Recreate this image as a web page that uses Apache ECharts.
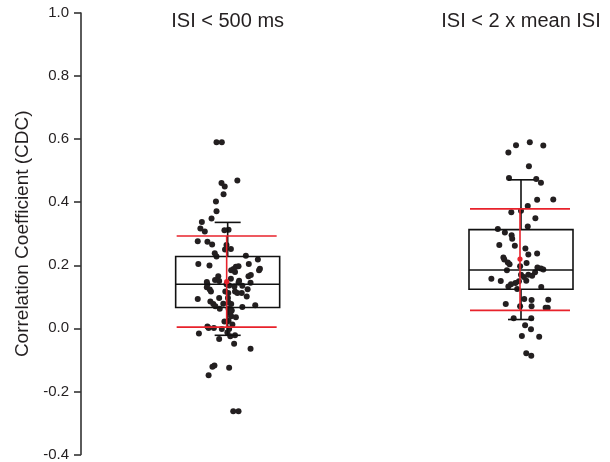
<!DOCTYPE html>
<html style="height: 100%; margin: 0">
<head>
<meta charset="UTF-8">
<title>CDC</title>
</head>
<body style="height: 100%; margin: 0">
<div id="container" style="width:610px;height:462px"></div>
<script type="text/javascript" src="https://cdn.jsdelivr.net/npm/echarts@6/dist/echarts.min.js"></script>
<script type="text/javascript">
	var groups = ['ISI < 500 ms', 'ISI < 2 x mean ISI'];
	var yTicks = [-0.4, -0.2, 0.0, 0.2, 0.4, 0.6, 0.8, 1.0];

	// box stats: [low whisker, Q1, median, Q3, high whisker]
	var boxStats = [
		[-0.022, 0.066, 0.140, 0.228, 0.336],
		[0.028, 0.124, 0.185, 0.313, 0.471]
	];
	// mean and SD band: [mean - SD, mean, mean + SD]
	var meanSd = [
		[0.004, 0.148, 0.293],
		[0.057, 0.220, 0.379]
	];

	// group 1 points: horizontal jitter (axis units) and values
	var jitter1 = [-0.038, -0.020, 0.033, -0.021, -0.010, -0.014, -0.040, -0.038, -0.055, -0.088,
		-0.093, -0.078, -0.011, 0.003, -0.102, -0.069, -0.053, -0.004, -0.009, 0.011,
		-0.044, -0.038, 0.062, 0.103, -0.100, -0.062, 0.072, 0.028, 0.037, 0.020,
		0.110, 0.107, 0.012, 0.025, -0.032, 0.071, 0.079, 0.011, -0.043, -0.029,
		0.039, 0.037, -0.071, -0.069, 0.078, -0.004, 0.005, 0.023, 0.050, -0.071,
		-0.061, -0.057, 0.068, -0.008, 0.002, 0.025, 0.033, 0.048, 0.065, -0.102,
		-0.029, 0.001, -0.059, -0.049, -0.015, 0.003, 0.012, -0.027, 0.003, 0.014,
		0.050, 0.094, -0.042, 0.009, 0.012, 0.028, -0.011, 0.003, 0.016, -0.069,
		-0.065, -0.047, -0.020, 0.005, -0.098, -0.001, 0.009, 0.025, -0.029, 0.022,
		0.078, -0.045, -0.052, 0.005, -0.065, 0.019, 0.037];
	var values1 = [0.590, 0.590, 0.469, 0.461, 0.450, 0.425, 0.402, 0.371, 0.348, 0.337,
		0.317, 0.307, 0.311, 0.313, 0.276, 0.275, 0.266, 0.264, 0.250, 0.252,
		0.238, 0.228, 0.230, 0.218, 0.204, 0.199, 0.204, 0.195, 0.197, 0.188,
		0.189, 0.184, 0.184, 0.179, 0.165, 0.165, 0.169, 0.157, 0.153, 0.150,
		0.151, 0.145, 0.147, 0.140, 0.145, 0.140, 0.136, 0.133, 0.135, 0.130,
		0.123, 0.117, 0.124, 0.117, 0.112, 0.117, 0.112, 0.112, 0.101, 0.093,
		0.096, 0.096, 0.085, 0.077, 0.078, 0.082, 0.077, 0.062, 0.062, 0.057,
		0.068, 0.073, 0.070, 0.049, 0.038, 0.035, 0.022, 0.023, 0.012, 0.006,
		0.001, 0.001, -0.002, -0.002, -0.016, -0.013, -0.025, -0.022, -0.034, -0.049,
		-0.065, -0.118, -0.122, -0.125, -0.149, -0.263, -0.263];

	// group 2 points
	var jitter2 = [-0.043, -0.017, 0.030, 0.076, 0.027, -0.041, 0.052, 0.068, 0.055, 0.110,
		0.023, 0.000, -0.033, 0.049, 0.023, -0.079, -0.055, -0.032, -0.030, -0.021,
		-0.074, 0.015, 0.025, 0.055, -0.060, -0.057, -0.045, -0.039, 0.019, -0.003,
		0.056, 0.068, 0.076, -0.048, 0.048, 0.000, 0.010, 0.025, 0.038, -0.101,
		-0.069, -0.007, -0.019, -0.034, -0.043, 0.018, -0.013, 0.069, 0.011, 0.036,
		0.093, -0.052, -0.003, 0.036, 0.084, 0.091, -0.025, 0.035, 0.014, 0.034,
		0.003, 0.062, 0.018, 0.035];
	var values2 = [0.558, 0.581, 0.590, 0.580, 0.514, 0.477, 0.474, 0.462, 0.408, 0.409,
		0.388, 0.373, 0.368, 0.349, 0.323, 0.315, 0.304, 0.295, 0.284, 0.262,
		0.264, 0.253, 0.234, 0.237, 0.225, 0.218, 0.209, 0.203, 0.207, 0.197,
		0.193, 0.190, 0.187, 0.184, 0.178, 0.170, 0.163, 0.170, 0.167, 0.157,
		0.150, 0.149, 0.144, 0.140, 0.133, 0.151, 0.125, 0.131, 0.093, 0.090,
		0.091, 0.077, 0.070, 0.070, 0.065, 0.065, 0.032, 0.032, 0.010, -0.003,
		-0.024, -0.027, -0.079, -0.087];

	var font = "'Liberation Sans', Arial, Helvetica, sans-serif";
	var ink = '#231f20';

	function points(center, jit, vals) {
		var out = [];
		for (var i = 0; i < vals.length; i++) {
			out.push([center + jit[i], vals[i]]);
		}
		return out;
	}

	var boxData = boxStats.map(function (s, i) { return [i + 1].concat(s); });
	var sdData = meanSd.map(function (s, i) { return [i + 1].concat(s); });

	function renderBox(params, api) {
		var x = api.value(0);
		var lo = api.coord([x, api.value(1)]);
		var q1 = api.coord([x, api.value(2)]);
		var md = api.coord([x, api.value(3)]);
		var q3 = api.coord([x, api.value(4)]);
		var hi = api.coord([x, api.value(5)]);
		var cx = q1[0], half = 52, cap = 13;
		var st = { stroke: '#111', lineWidth: 1.6, fill: null };
		return {
			type: 'group',
			children: [
				{ type: 'rect', shape: { x: cx - half, y: q3[1], width: half * 2, height: q1[1] - q3[1] }, style: st },
				{ type: 'line', shape: { x1: cx - half, y1: md[1], x2: cx + half, y2: md[1] }, style: st },
				{ type: 'line', shape: { x1: cx, y1: q3[1], x2: cx, y2: hi[1] }, style: st },
				{ type: 'line', shape: { x1: cx, y1: q1[1], x2: cx, y2: lo[1] }, style: st },
				{ type: 'line', shape: { x1: cx - cap, y1: hi[1], x2: cx + cap, y2: hi[1] }, style: st },
				{ type: 'line', shape: { x1: cx - cap, y1: lo[1], x2: cx + cap, y2: lo[1] }, style: st }
			]
		};
	}

	function renderSd(params, api) {
		var x = api.value(0);
		var lo = api.coord([x, api.value(1)]);
		var mn = api.coord([x, api.value(2)]);
		var hi = api.coord([x, api.value(3)]);
		var cx = lo[0] - 1, half = 50;
		var st = { stroke: '#e8222b', lineWidth: 1.6, fill: null };
		return {
			type: 'group',
			children: [
				{ type: 'line', shape: { x1: cx - half, y1: hi[1], x2: cx + half, y2: hi[1] }, style: st },
				{ type: 'line', shape: { x1: cx - half, y1: lo[1], x2: cx + half, y2: lo[1] }, style: st },
				{ type: 'line', shape: { x1: cx, y1: hi[1], x2: cx, y2: lo[1] }, style: st },
				{ type: 'circle', shape: { cx: cx, cy: mn[1], r: 2.6 }, style: { fill: '#e8222b' } }
			]
		};
	}

	var dom = document.getElementById("container");
	var myChart = echarts.init(dom);
	var option = {
		animation: false,
		backgroundColor: '#fff',
		grid: { left: 81, right: 1, top: 13, bottom: 7 },
		xAxis: [{
			type: 'value',
			min: 0.5,
			max: 2.3,
			show: false
		}, {
			type: 'value',
			position: 'top',
			min: 0.5,
			max: 2.3,
			offset: 4,
			axisLine: { show: false },
			axisTick: { show: false },
			splitLine: { show: false },
			axisLabel: {
				inside: true,
				margin: 2,
				customValues: [1, 2],
				formatter: function (v) { return groups[Math.round(v) - 1]; },
				color: ink,
				fontFamily: font,
				fontSize: 20
			}
		}],
		yAxis: {
			type: 'value',
			min: yTicks[0],
			max: yTicks[yTicks.length - 1],
			interval: 0.2,
			name: 'Correlation Coefficient (CDC)',
			nameLocation: 'middle',
			nameGap: 48,
			nameTextStyle: { color: ink, fontFamily: font, fontSize: 19 },
			axisLine: { show: true, lineStyle: { color: '#333', width: 1.6 } },
			axisTick: { show: true, inside: false, length: 7, lineStyle: { color: '#333', width: 1.6 } },
			splitLine: { show: false },
			axisLabel: {
				margin: 12,
				color: ink,
				fontFamily: font,
				fontSize: 15,
				formatter: function (v) { return (Math.round(v * 10) / 10).toFixed(1); }
			}
		},
		series: [
			{
				type: 'scatter',
				data: points(1, jitter1, values1),
				symbolSize: 6,
				itemStyle: { color: ink, opacity: 1 },
				z: 2
			},
			{
				type: 'scatter',
				data: points(2, jitter2, values2),
				symbolSize: 6,
				itemStyle: { color: ink, opacity: 1 },
				z: 2
			},
			{
				type: 'custom',
				renderItem: renderBox,
				data: boxData,
				encode: { x: 0, y: [1, 2, 3, 4, 5] },
				z: 3
			},
			{
				type: 'custom',
				renderItem: renderSd,
				data: sdData,
				encode: { x: 0, y: [1, 2, 3] },
				z: 4
			}
		]
	};
	if (option && typeof option === "object") {
		myChart.setOption(option, true);
	}
</script>
</body>
</html>
